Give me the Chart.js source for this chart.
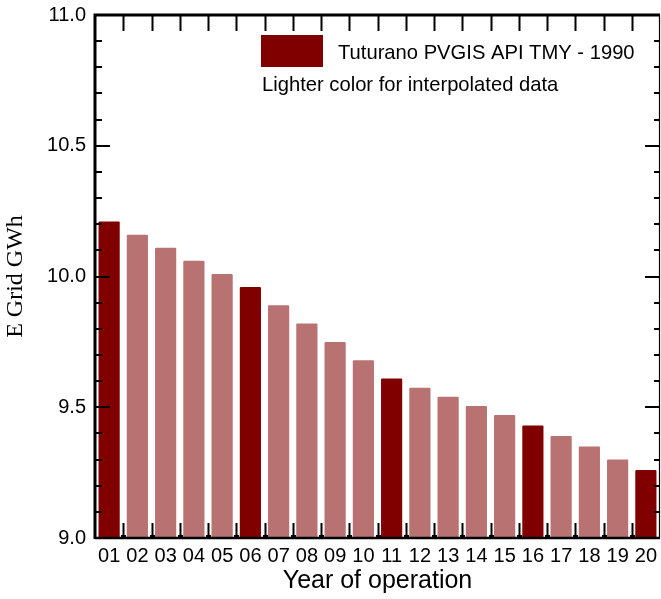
<!DOCTYPE html>
<html><head><meta charset="utf-8">
<script src="https://cdn.jsdelivr.net/npm/chart.js@4/dist/chart.umd.min.js"></script>
<style>html,body{margin:0;padding:0;background:#fff}#wrap{width:661px;height:599px;position:relative}</style>
</head><body><div id="wrap"><canvas id="c" width="661" height="599"></canvas></div>
<script>
// ---- data ----
const years = ['01','02','03','04','05','06','07','08','09','10','11','12','13','14','15','16','17','18','19','20'];
const energyGWh = [10.21, 10.16, 10.11, 10.06, 10.01, 9.96, 9.89, 9.82, 9.75, 9.68, 9.61, 9.575, 9.54, 9.505, 9.47, 9.43, 9.39, 9.35, 9.30, 9.26];
const simulated = [true,false,false,false,false,true,false,false,false,false,true,false,false,false,false,true,false,false,false,true];
const yMin = 9.0, yMax = 11.0, yStep = 0.5, yMinorStep = 0.1;
const legendLabel = 'Tuturano PVGIS API TMY - 1990';
const noteLabel = 'Lighter color for interpolated data';
const xTitle = 'Year of operation';
const yTitle = 'E Grid GWh';

const DARK = '#800000', LIGHT = '#b97272';
const SANS = '"Liberation Sans", Arial, sans-serif';
const SERIF = '"Liberation Serif", "Times New Roman", serif';

const framePlugin = {
  id: 'frame',
  afterDraw(chart) {
    const ctx = chart.ctx, a = chart.chartArea;
    const xs = chart.scales.x, ys = chart.scales.y;
    ctx.save();
    ctx.strokeStyle = '#000';
    ctx.fillStyle = '#000';
    ctx.lineWidth = 2;
    const n = Math.round((yMax - yMin) / yMinorStep);
    for (let i = 0; i <= n; i++) {
      const v = yMin + i * yMinorStep;
      const y = Math.round(ys.getPixelForValue(v));
      const major = i % Math.round(yStep / yMinorStep) === 0;
      const L = major ? 15 : 7;
      ctx.beginPath();
      ctx.moveTo(a.left, y); ctx.lineTo(a.left + L, y);
      ctx.moveTo(a.right, y); ctx.lineTo(a.right - (major ? 15 : 6), y);
      ctx.stroke();
    }
    for (let i = 1; i < years.length; i++) {
      const x = Math.round((xs.getPixelForValue(i - 1) + xs.getPixelForValue(i)) / 2) + 0.5;
      ctx.beginPath();
      ctx.moveTo(x, a.bottom); ctx.lineTo(x, a.bottom - 15);
      ctx.moveTo(x, a.top); ctx.lineTo(x, a.top + 16);
      ctx.stroke();
      ctx.fillRect(x - 2.5, a.bottom - 3, 5, 4);
    }
    ctx.lineWidth = 3;
    ctx.beginPath();
    ctx.moveTo(a.left, a.bottom + 1); ctx.lineTo(a.left, a.top);
    ctx.lineTo(a.right, a.top);
    ctx.stroke();
    ctx.lineWidth = 2.5;
    ctx.beginPath();
    ctx.moveTo(a.left, a.bottom); ctx.lineTo(a.right, a.bottom);
    ctx.stroke();
    ctx.lineWidth = 1.2;
    ctx.beginPath();
    ctx.moveTo(a.right - 0.5, a.top); ctx.lineTo(a.right - 0.5, a.bottom);
    ctx.stroke();
    ctx.fillStyle = DARK;
    ctx.fillRect(a.left + 166, a.top + 20, 62, 32);
    ctx.fillStyle = '#000';
    ctx.font = '20.2px ' + SANS;
    ctx.textBaseline = 'middle';
    ctx.textAlign = 'left';
    ctx.fillText(legendLabel, a.left + 243, a.top + 38);
    ctx.fillText(noteLabel, a.left + 167, a.top + 70);
    ctx.restore();
  }
};

new Chart(document.getElementById('c'), {
  type: 'bar',
  data: {
    labels: years,
    datasets: [{
      data: energyGWh,
      backgroundColor: simulated.map(s => s ? DARK : LIGHT),
      borderWidth: 0,
      borderRadius: 1,
      barPercentage: 0.75,
      categoryPercentage: 1.0
    }]
  },
  options: {
    responsive: false,
    devicePixelRatio: 1,
    animation: false,
    layout: { padding: { top: 15, right: 1, left: 0, bottom: 0 } },
    plugins: { legend: { display: false }, tooltip: { enabled: false } },
    scales: {
      x: {
        grid: { display: false, drawTicks: false },
        border: { display: false },
        ticks: { color: '#000', font: { family: SANS, size: 20 }, padding: 6, maxRotation: 0, autoSkip: false },
        title: { display: true, text: xTitle, color: '#000', font: { family: SANS, size: 25 }, padding: { top: 0, bottom: 3 } },
        afterFit(s) { s.height = 61; s.paddingLeft = 0; s.paddingRight = 0; }
      },
      y: {
        min: yMin, max: yMax,
        grid: { display: false, drawTicks: false },
        border: { display: false },
        ticks: { stepSize: yStep, color: '#000', font: { family: SANS, size: 20 }, padding: 9, callback: v => Number(v).toFixed(1) },
        title: { display: true, text: yTitle, color: '#000', font: { family: SERIF, size: 24 }, padding: { top: 1, bottom: 0 } },
        afterFit(s) { s.width = 95; s.paddingTop = 0; s.paddingBottom = 0; }
      }
    }
  },
  plugins: [framePlugin]
});
</script>
</body></html>
